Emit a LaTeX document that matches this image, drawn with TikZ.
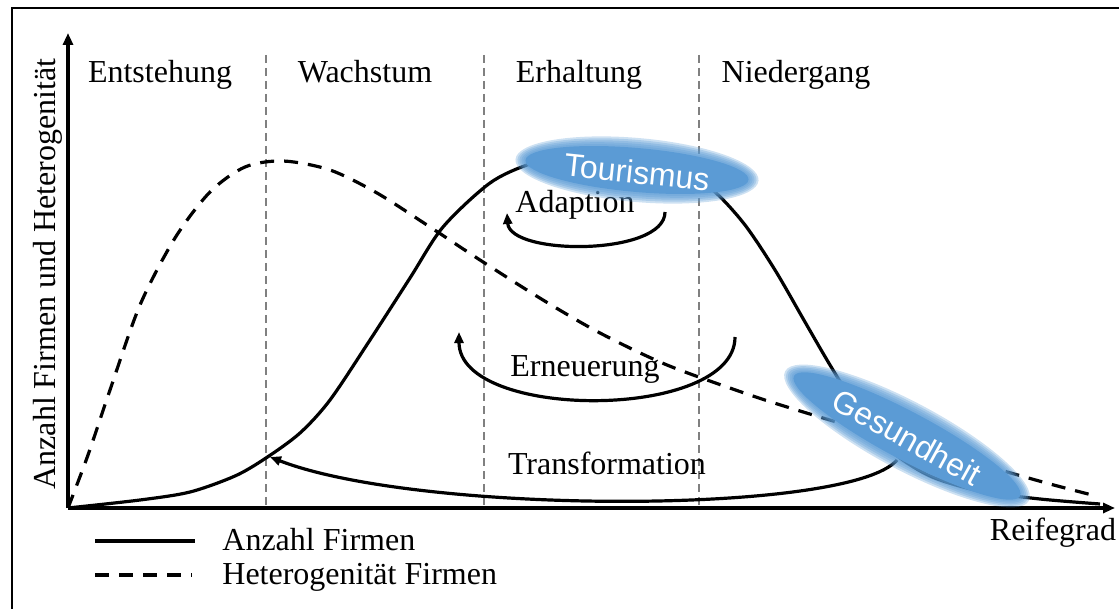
\documentclass[tikz,border=0pt]{standalone}
\usepackage{fontspec}
\setmainfont{Liberation Serif}
\newfontfamily\blobfont{Liberation Sans}
\usepackage{tikz}
\usetikzlibrary{arrows.meta}
\definecolor{blobblue}{RGB}{91,155,213}
\definecolor{phasegray}{RGB}{128,128,128}

\begin{document}
\begin{tikzpicture}[x=0.5pt, y=-0.5pt,
    every node/.style={font=\fontsize{16}{19}\selectfont, inner sep=0pt},
    axisline/.style={line width=1.6pt, -{Triangle[length=6pt,width=5pt]}},
    phaseline/.style={phasegray, line width=0.9pt, dash pattern=on 4pt off 2.5pt},
    firms/.style={line width=1.6pt},
    hetero/.style={line width=1.6pt, dash pattern=on 7pt off 5pt},
    cyclearrow/.style={line width=1.6pt, -{Triangle[length=5.5pt,width=4.5pt]}},
    blobtext/.style={font=\blobfont\fontsize{16}{19}\selectfont, text=white}]
        \useasboundingbox (0,0) rectangle (1119,609);
        \draw[line width=1pt] (12,609) -- (12,8) -- (1119,8);
        % phases
        \foreach \x in {266,484,699}
            \draw[phaseline] (\x,55) -- (\x,508);
        \node[anchor=base] (entst) at (160,83) {Entstehung};
        \node[anchor=base] (wachs) at (365,83) {Wachstum};
        \node[anchor=base] (erhalt) at (579,83) {Erhaltung};
        \node[anchor=base] (nieder) at (796,83) {Niedergang};
        % axes
        \coordinate (origin) at (68,508);
        \coordinate (ytip) at (68,33);
        \coordinate (xtip) at (1115,508);
        \draw[axisline] (origin) -- (ytip);
        \draw[axisline] (origin) -- (xtip);
        \node[rotate=90, anchor=base] (ylabel) at (55,274) {Anzahl Firmen und Heterogenität};
        \node[anchor=base] (reife) at (1053,540) {Reifegrad};
        % curves
        \draw[firms] plot[smooth, tension=0.5] coordinates {(68,508) (140,500) (190,492) (235,476) (266,458) (300,433) (330,400) (370,340) (410,278) (443,227) (490,183) (530,164) (570,156) (610,155) (650,160) (685,172) (715,192) (745,225) (775,270) (805,322) (830,365) (860,413) (890,450) (930,476) (980,491) (1040,499) (1100,504)};
        \draw[hetero] plot[smooth, tension=0.5] coordinates {(68,508) (88,455) (110,390) (140,305) (175,238) (210,192) (245,167) (283,161) (330,170) (377,193) (430,227) (480,260) (543,300) (600,333) (667,365) (750,395) (800,411) (850,426) (900,441) (950,456) (1000,470) (1050,484) (1092,495)};
        % cycles
        \coordinate (adaptS) at (665,212);
        \coordinate (adaptE) at (507,213);
        \coordinate (erneuS) at (735,337);
        \coordinate (erneuE) at (459,332);
        \coordinate (transS) at (897,460);
        \coordinate (transE) at (270,457);
        \draw[cyclearrow] (adaptS) .. controls (665,256) and (510,256) .. (adaptE);
        \draw[cyclearrow] (erneuS) .. controls (735,421) and (459,421) .. (erneuE);
        \draw[cyclearrow] (transS) .. controls (850,515) and (420,515) .. (transE);
        \node[anchor=base] (adapt) at (575,213) {Adaption};
        \node[anchor=base] (erneu) at (585,376) {Erneuerung};
        \node[anchor=base] (transf) at (607,474) {Transformation};
        % blobs
        \begin{scope}[shift={(637,170)}, rotate=-5]
            \foreach \d in {10,8,6,4,2}
                \fill[blobblue, opacity=0.3] (0,0) ellipse [x radius=112+\d, y radius=22+\d];
            \fill[blobblue] (0,0) ellipse [x radius=112, y radius=22];
        \end{scope}
        \begin{scope}[shift={(907,436)}, rotate=-28]
            \foreach \d in {10,8,6,4,2}
                \fill[blobblue, opacity=0.3] (0,0) ellipse [x radius=128+\d, y radius=24+\d];
            \fill[blobblue] (0,0) ellipse [x radius=128, y radius=24];
        \end{scope}
        \node[blobtext, rotate=-6] (tourism) at (637,172) {Tourismus};
        \node[blobtext, rotate=-29] (health) at (907,437) {Gesundheit};
        % legend
        \coordinate (solidA) at (95,541);
        \coordinate (solidB) at (195,541);
        \coordinate (dashA) at (95,575);
        \coordinate (dashB) at (192,575);
        \draw[firms] (solidA) -- (solidB);
        \draw[hetero] (dashA) -- (dashB);
        \node[anchor=base west] (legfirms) at (222,550) {Anzahl Firmen};
        \node[anchor=base west] (leghetero) at (222,584) {Heterogenität Firmen};
    \end{tikzpicture}
\end{document}
